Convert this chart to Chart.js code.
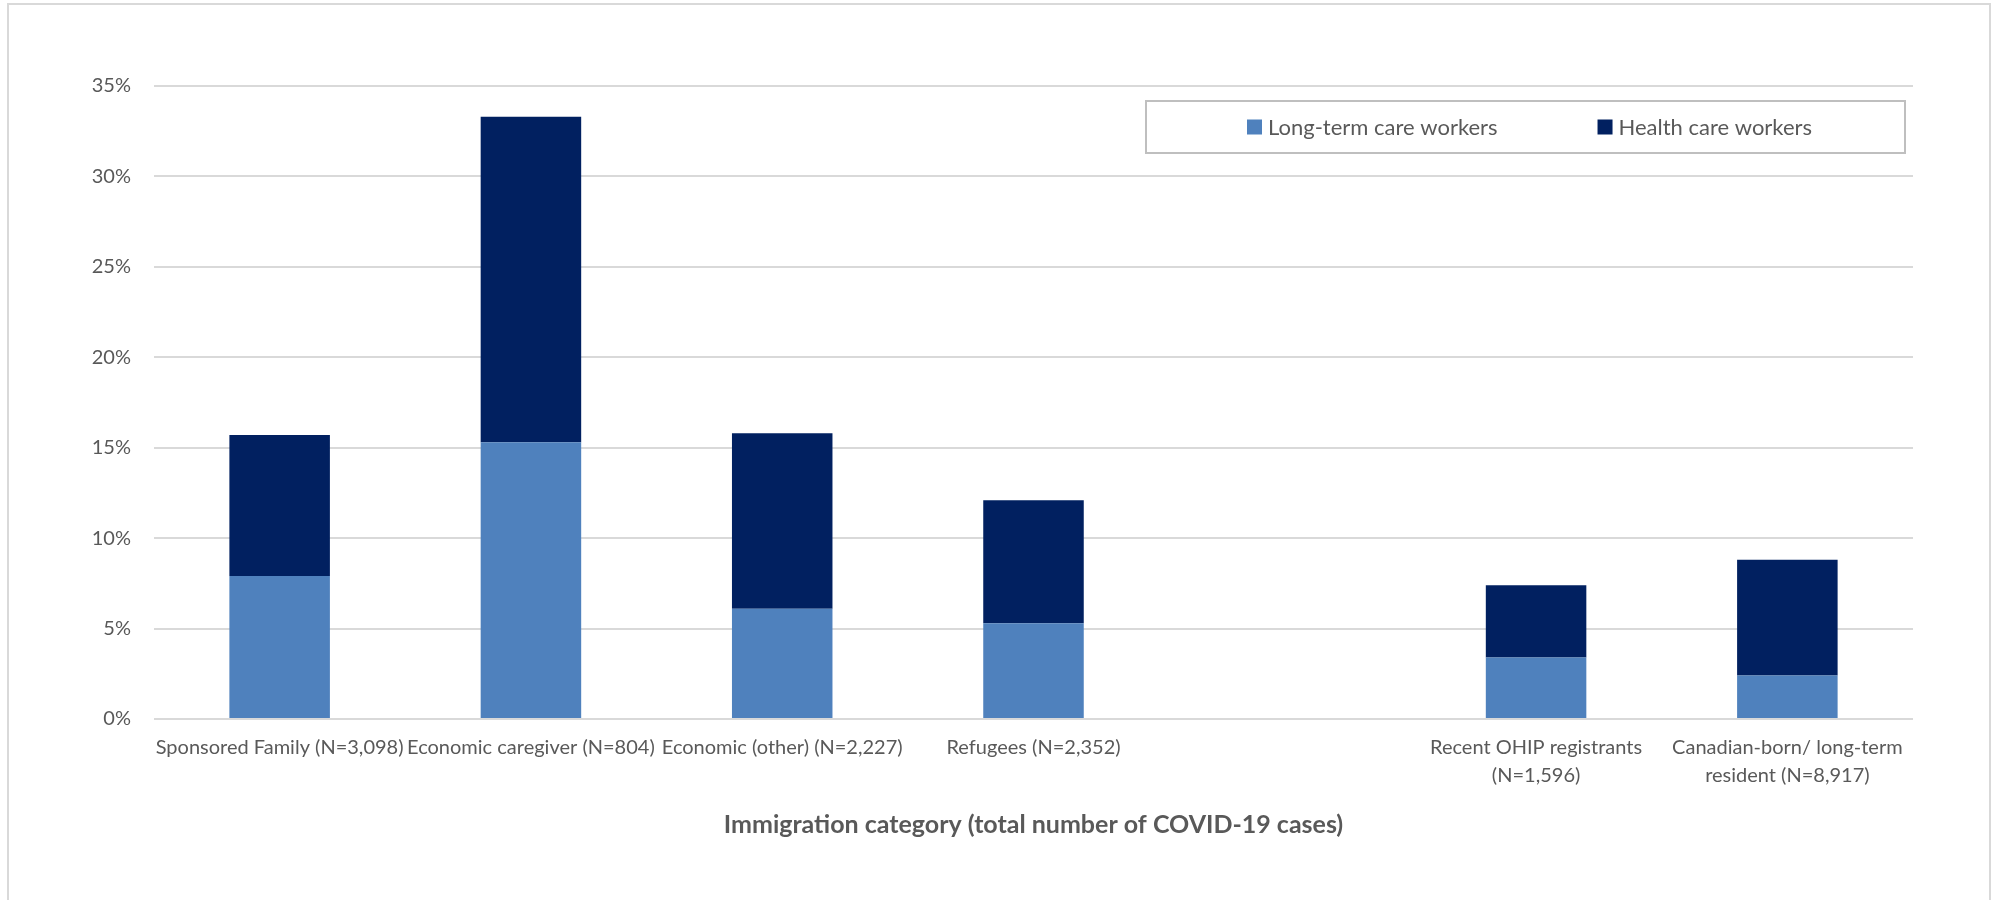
<!DOCTYPE html>
<html>
<head>
<meta charset="utf-8">
<title>COVID-19 cases among health care workers by immigration category</title>
<script src="https://cdn.jsdelivr.net/npm/chart.js@4"></script>
<style>
    html, body { margin: 0; padding: 0; background: #ffffff; }
    #wrap { position: relative; width: 1997px; height: 900px; }
</style>
</head>
<body>
<div id="wrap"><canvas id="chart" width="1997" height="900"></canvas></div>
<script>
// Immigration categories (empty slot kept as a gap, as in the original)
const categories = [
    'Sponsored Family (N=3,098)',
    'Economic caregiver (N=804)',
    'Economic (other) (N=2,227)',
    'Refugees (N=2,352)',
    '',
    ['Recent OHIP registrants', '(N=1,596)'],
    ['Canadian-born/ long-term', 'resident (N=8,917)']
];

// Percent of COVID-19 cases, stacked
const longTermCareWorkers = [7.9, 15.3, 6.1, 5.3, null, 3.4, 2.4];
const healthCareWorkers = [7.8, 18.0, 9.7, 6.8, null, 4.0, 6.4];

const yTicks = [0, 5, 10, 15, 20, 25, 30, 35];

const FONT = 'Lato, "Open Sans", sans-serif';
const TEXT_COLOR = '#595959';
const GRID_COLOR = '#d9d9d9';

// Outer frame + white background
const framePlugin = {
    id: 'frame',
    beforeDraw(chart) {
        const ctx = chart.ctx;
        ctx.save();
        ctx.fillStyle = '#ffffff';
        ctx.fillRect(0, 0, chart.width, chart.height);
        ctx.strokeStyle = GRID_COLOR;
        ctx.lineWidth = 2;
        ctx.strokeRect(8, 4, 1982, 920);
        ctx.restore();
    }
};

// Boxed legend sitting inside the plot area, top right
const boxLegendPlugin = {
    id: 'boxLegend',
    afterDraw(chart) {
        const ctx = chart.ctx;
        const area = chart.chartArea;
        const boxX = area.right - 767;
        const boxY = area.top + 15;
        const boxW = 759;
        const boxH = 52;

        ctx.save();
        ctx.fillStyle = '#ffffff';
        ctx.fillRect(boxX, boxY, boxW, boxH);
        ctx.strokeStyle = '#bfbfbf';
        ctx.lineWidth = 2;
        ctx.strokeRect(boxX, boxY, boxW, boxH);

        ctx.font = '22px ' + FONT;
        ctx.textBaseline = 'middle';
        const sq = 15, gap = 6, itemGap = 100;
        const items = chart.data.datasets.map(ds => ({
            label: ds.label,
            color: ds.backgroundColor,
            w: sq + gap + ctx.measureText(ds.label).width
        }));
        const total = items.reduce((s, it) => s + it.w, 0) + itemGap * (items.length - 1);
        let x = boxX + (boxW - total) / 2 + 4;
        const cy = boxY + boxH / 2;
        items.forEach(it => {
            ctx.fillStyle = it.color;
            ctx.fillRect(x, cy - sq / 2, sq, sq);
            ctx.fillStyle = TEXT_COLOR;
            ctx.fillText(it.label, x + sq + gap, cy + 1);
            x += it.w + itemGap;
        });
        ctx.restore();
    }
};

const ctx = document.getElementById('chart').getContext('2d');
new Chart(ctx, {
    type: 'bar',
    data: {
        labels: categories,
        datasets: [
            {
                label: 'Long-term care workers',
                data: longTermCareWorkers,
                backgroundColor: '#4f81bd',
                barPercentage: 0.4,
                categoryPercentage: 1.0
            },
            {
                label: 'Health care workers',
                data: healthCareWorkers,
                backgroundColor: '#012060',
                barPercentage: 0.4,
                categoryPercentage: 1.0
            }
        ]
    },
    options: {
        responsive: false,
        animation: false,
        devicePixelRatio: 1,
        layout: {
            padding: { left: 0, right: 84, top: 86, bottom: 0 }
        },
        plugins: {
            legend: { display: false },
            tooltip: { enabled: false }
        },
        scales: {
            x: {
                stacked: true,
                grid: { display: false, drawTicks: false },
                border: { display: false },
                ticks: {
                    color: TEXT_COLOR,
                    padding: 15,
                    maxRotation: 0,
                    autoSkip: false,
                    font: { family: FONT, size: 20, lineHeight: 1.4 }
                },
                title: {
                    display: true,
                    text: 'Immigration category (total number of COVID-19 cases)',
                    color: TEXT_COLOR,
                    font: { family: FONT, size: 25, weight: 'bold', lineHeight: 1.2 },
                    padding: { top: 0, bottom: 60 }
                },
                afterFit(scale) { scale.height = 181; }
            },
            y: {
                stacked: true,
                min: 0,
                max: 35,
                grid: { color: GRID_COLOR, lineWidth: 2, drawTicks: false },
                border: { display: false },
                afterBuildTicks(scale) {
                    scale.ticks = yTicks.map(v => ({ value: v }));
                },
                ticks: {
                    color: TEXT_COLOR,
                    padding: 23,
                    font: { family: FONT, size: 20 },
                    callback: v => v + '%'
                },
                afterFit(scale) { scale.width = 154; }
            }
        }
    },
    plugins: [framePlugin, boxLegendPlugin]
});
</script>
</body>
</html>
